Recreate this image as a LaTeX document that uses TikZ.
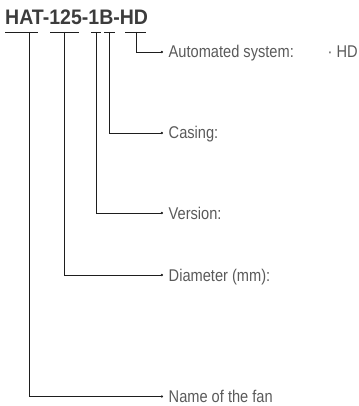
\documentclass[tikz,border=0pt]{standalone}
\usepackage{fontspec}
\setmainfont{Liberation Sans}
\newfontfamily\condfont{Liberation Sans}[FakeStretch=0.86]
\newfontfamily\condbold{Liberation Sans}[FakeStretch=0.93,UprightFont=*-Bold]
\usetikzlibrary{arrows.meta}
\definecolor{ttlc}{HTML}{3C3C3C}
\definecolor{lblc}{HTML}{5A5A5A}
\definecolor{linec}{HTML}{1E1E1E}
\begin{document}
\begin{tikzpicture}[x=1pt,y=-1pt,
  lead/.style={draw=linec, line width=0.8pt},
  tipped/.style={lead, -{Circle[length=2.2pt]}},
  lbl/.style={anchor=base west, inner sep=0pt, text=lblc, font=\condfont\fontsize{17}{20}\selectfont},
]
\useasboundingbox (0,0) rectangle (358,406);
\node[anchor=base west, inner sep=0pt, text=ttlc, font=\condbold\fontsize{21}{24}\selectfont] (title) at (5,25) {HAT-125-1B-HD};
% underlines
\coordinate (ua1) at (5,32);   \coordinate (ub1) at (38,32);
\coordinate (ua2) at (50,32);  \coordinate (ub2) at (79,32);
\coordinate (ua3) at (91,32);  \coordinate (ub3) at (101,32);
\coordinate (ua4) at (104,32); \coordinate (ub4) at (115,32);
\coordinate (ua5) at (125,32); \coordinate (ub5) at (146,32);
\foreach \i in {1,...,5} {\draw[lead] (ua\i) -- (ub\i);}
% stems
\coordinate (s1) at (29,32);
\coordinate (s2) at (64,32);
\coordinate (s3) at (96,32);
\coordinate (s4) at (109,32);
\coordinate (s5) at (136,32);
% ends
\coordinate (e1) at (163,396.5);
\coordinate (e2) at (163,275);
\coordinate (e3) at (163,213);
\coordinate (e4) at (163,133);
\coordinate (e5) at (163,52);
\foreach \i in {1,...,5} {\draw[tipped] (s\i) |- (e\i);}
% labels
\node[lbl] (l1) at (168.5,402.3) {Name of the fan};
\node[lbl] (l2) at (168.5,281) {Diameter (mm):};
\node[lbl] (l3) at (168.5,219) {Version:};
\node[lbl] (l4) at (168.5,139) {Casing:};
\node[lbl] (l5) at (168.5,58) {Automated system:};
\node[lbl] (hd) at (327.5,58) {·\ HD};
\end{tikzpicture}
\end{document}
